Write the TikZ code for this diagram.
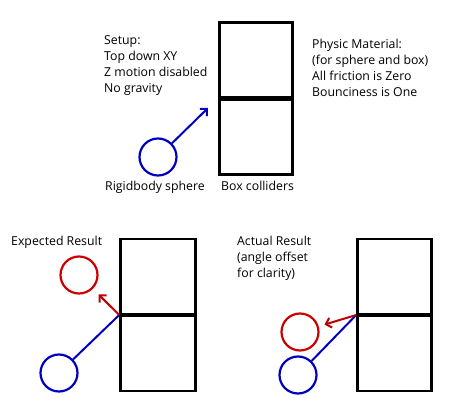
\documentclass[tikz,border=0pt]{standalone}
\usepackage{fontspec}
\setmainfont{Open Sans}
\usetikzlibrary{arrows.meta}
\begin{document}
\begin{tikzpicture}[x=1pt,y=-1pt,>={Straight Barb[length=5pt,width=10pt]},
    collider/.style={draw,line width=2.6pt,minimum width=73pt,minimum height=152pt,inner sep=0pt},
    ball/.style={draw,circle,line width=2.2pt,minimum size=37pt,inner sep=0pt},
    seam/.style={line width=4.5pt},
    note/.style={align=left,anchor=base west,inner sep=0pt,font=\fontsize{12.3}{16}\selectfont},
    blueline/.style={draw=blue!75!black,line width=2pt},
    redline/.style={draw=red!75!black,line width=2pt}]
  \useasboundingbox (0,0) rectangle (474,414);
  % setup
  \node[collider] (box) at (256,98.5) {};
  \draw[seam] (box.west) -- (box.east);
  \node[ball,blue!75!black] (sphere) at (158,157) {};
  \coordinate (aim) at (208,108);
  \draw[blueline,->] (sphere) -- (aim);
  \node[note] (setup) at (104,93) {Setup:\\Top down XY\\Z motion disabled\\No gravity};
  \node[note] (material) at (312,97) {Physic Material:\\(for sphere and box)\\All friction is Zero\\Bounciness is One};
  \node[note] (sphtext) at (105,191) {Rigidbody sphere};
  \node[note] (boxtext) at (221,191) {Box colliders};
  % expected
  \node[collider,minimum width=75pt] (boxA) at (158,315) {};
  \draw[seam] (boxA.west) -- (boxA.east);
  \node[ball,blue!75!black] (inA) at (59,373) {};
  \node[ball,red!80!black] (outA) at (79,275) {};
  \draw[blueline] (inA) -- (boxA.west);
  \draw[redline,->,shorten >=8pt] (boxA.west) -- (outA);
  \node[note] (expected) at (11,246) {Expected Result};
  % actual
  \node[collider,minimum width=74pt] (boxB) at (394.5,315) {};
  \draw[seam] (boxB.west) -- (boxB.east);
  \node[ball,blue!75!black] (inB) at (298,375) {};
  \node[ball,red!80!black] (outB) at (300,332) {};
  \draw[blueline] (inB) -- (boxB.west);
  \draw[redline,->,shorten >=6pt] (boxB.west) -- (outB);
  \node[note] (actual) at (237,277) {Actual Result\\(angle offset\\for clarity)};
\end{tikzpicture}
\end{document}
